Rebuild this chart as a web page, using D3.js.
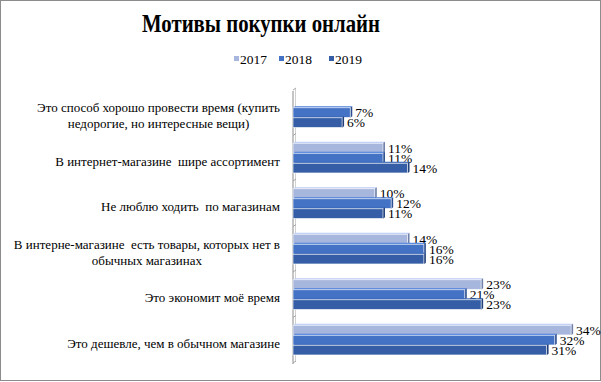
<!DOCTYPE html>
<html><head><meta charset="utf-8">
<script src="https://cdn.jsdelivr.net/npm/d3@7"></script>
<style>
html,body{margin:0;padding:0;background:#fff;}
svg text{font-family:"Liberation Serif","Times New Roman",Times,"DejaVu Serif",serif;}
</style></head>
<body>
<svg id="c" width="601" height="382"></svg>
<script>
const title = "Мотивы покупки онлайн";
const categories = [
  ["Это способ хорошо провести время (купить", "недорогие, но интересные вещи)"],
  ["В интернет-магазине  шире ассортимент"],
  ["Не люблю ходить  по магазинам"],
  ["В интерне-магазине  есть товары, которых нет в", "обычных магазинах"],
  ["Это экономит моё время"],
  ["Это дешевле, чем в обычном магазине"]
];
const seriesNames = ["2017", "2018", "2019"];
const values2017 = [null, 11, 10, 14, 23, 34];
const values2018 = [7, 11, 12, 16, 21, 32];
const values2019 = [6, 14, 11, 16, 23, 31];
const colors = ["#A7B6DC", "#4472C4", "#355EA6"];
const edgeColors = ["#6F7FA8", "#2C4F8F", "#22417A"];

const series = [values2017, values2018, values2019];
const svg = d3.select("#c");
const FONT = "'Liberation Serif', 'Times New Roman', Times, serif";

// frame
svg.append("rect").attr("x",0.5).attr("y",0.5).attr("width",600).attr("height",380)
  .attr("fill","#fff").attr("stroke","#8c8c8c").attr("stroke-width",1);

// title
svg.append("text").attr("x",261).attr("y",32).attr("text-anchor","middle")
  .attr("font-family",FONT)
  .attr("font-size",25).attr("font-weight","bold").attr("fill","#000")
  .attr("textLength",238).attr("lengthAdjust","spacingAndGlyphs")
  .text(title);

// legend
const legendX = [234, 279, 329];
const legendG = svg.append("g");
seriesNames.forEach((s,i)=>{
  const g = legendG.append("g").attr("transform",`translate(${legendX[i]},59)`);
  g.append("rect").attr("x",0).attr("y",-3).attr("width",5).attr("height",5).attr("fill",colors[i]);
  g.append("text").attr("x",6).attr("y",4.5).attr("font-family",FONT)
    .attr("font-size",13.5).attr("fill","#000").text(s);
});

const x = d3.scaleLinear().domain([0,35]).range([293, 293 + 8.18*35]);
const y = d3.scaleBand().domain(d3.range(categories.length)).range([90, 363])
  .paddingInner(0.34).paddingOuter(0.17);
const ySub = d3.scaleBand().domain(d3.range(3)).range([0, y.bandwidth()]);

// axis (3D-like wall line)
svg.append("line").attr("x1",293).attr("x2",293).attr("y1",91).attr("y2",364)
  .attr("stroke","#a6a6a6").attr("stroke-width",1.3);
svg.append("line").attr("x1",295.5).attr("x2",295.5).attr("y1",89).attr("y2",362)
  .attr("stroke","#d0d0d0").attr("stroke-width",1);
const bounds = d3.range(categories.length+1).map(i=> i===categories.length ? 363 : y(i) - y.step()*y.paddingInner()/2);
bounds.forEach(b=>{
  svg.append("line").attr("x1",293).attr("x2",296).attr("y1",b).attr("y2",b-2)
    .attr("stroke","#a6a6a6").attr("stroke-width",1);
});

// bars
const groups = svg.append("g");
categories.forEach((cat, ci)=>{
  series.forEach((vals, si)=>{
    const v = vals[ci];
    if (v === null) return;
    const y0 = y(ci) + ySub(si);
    const h = ySub.bandwidth();
    const x0 = x(0), x1 = x(v);
    groups.append("path")
      .attr("d", `M${x0},${y0} L${x0+2},${y0-1.5} L${x1+2},${y0-1.5} L${x1},${y0} Z`)
      .attr("fill", d3.color(colors[si]).brighter(0.3)).attr("stroke","none");
    groups.append("path")
      .attr("d", `M${x1},${y0} L${x1+2},${y0-1.5} L${x1+2},${y0+h-1.5} L${x1},${y0+h} Z`)
      .attr("fill", edgeColors[si]);
    groups.append("rect").attr("x",x0).attr("y",y0).attr("width",x1-x0).attr("height",h-0.3)
      .attr("fill",colors[si]).attr("stroke","rgba(255,255,255,0.75)").attr("stroke-width",0.8);
    groups.append("text").attr("x", x1 + 5).attr("y", y0 + h/2 + 4.5)
      .attr("font-family",FONT)
      .attr("font-size",13.5).attr("fill","#000").text(v + "%");
  });
});

// category labels
categories.forEach((lines, ci)=>{
  const cy = y(ci) + y.bandwidth()/2 + 3;
  const n = lines.length;
  const texts = lines.map((l, li)=> svg.append("text")
    .attr("y", cy + (li - (n-1)/2)*16 + 4.5)
    .attr("font-family",FONT).attr("xml:space","preserve")
    .attr("font-size",13).attr("fill","#000").text(l));
  const widths = texts.map(t=>t.node().getComputedTextLength());
  const maxW = d3.max(widths);
  const right = 280;
  texts.forEach(t=> t.attr("x", right - maxW/2).attr("text-anchor","middle"));
});
</script>
</body></html>
